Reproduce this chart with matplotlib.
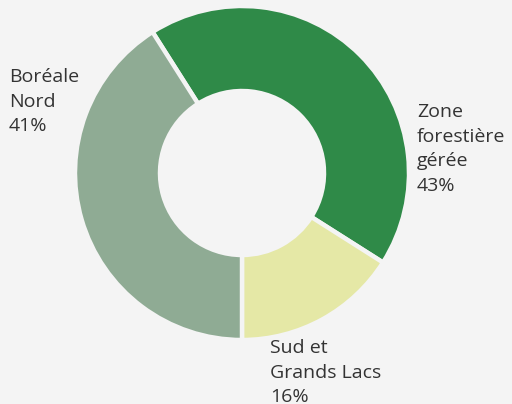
import matplotlib.pyplot as plt

labels = ["Zone\nforestière\ngérée\n43%", "Sud et\nGrands Lacs\n16%", "Boréale\nNord\n41%"]
values = [43, 16, 41]
colors = ["#2f8a48", "#e5e8a6", "#8fab94"]

bg = "#f4f4f4"
fig = plt.figure(figsize=(5.12, 4.04), dpi=100, facecolor=bg)
ax = fig.add_axes([0, 0, 1, 1])
ax.set_facecolor(bg)

cx, cy = 242, 404 - 173
ax.pie(values, colors=colors, startangle=122.4, counterclock=False,
       center=(cx, cy), radius=167,
       wedgeprops=dict(width=85, edgecolor=bg, linewidth=3.2))

ax.set_xlim(0, 512)
ax.set_ylim(0, 404)
ax.set_aspect("equal")
ax.axis("off")

txt = dict(fontsize=14, color="#333333", family=["Open Sans", "DejaVu Sans"],
           va="top", ha="left", linespacing=1.48)
ax.text(9, 404 - 68, labels[2], **txt)
ax.text(417, 404 - 103, labels[0], **txt)
ax.text(270, 404 - 339, labels[1], **txt)

fig.savefig("out.png", dpi=100, facecolor=bg)
